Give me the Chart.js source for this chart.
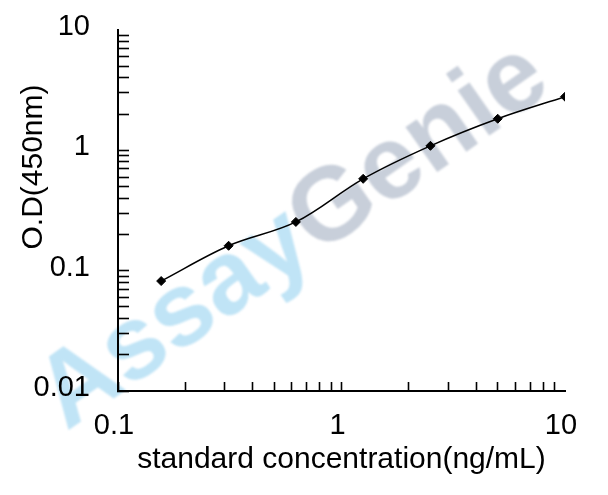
<!DOCTYPE html>
<html>
<head>
<meta charset="utf-8">
<title>Standard curve</title>
<script src="https://cdn.jsdelivr.net/npm/chart.js@4.4.0/dist/chart.umd.min.js"></script>
<style>
  html, body { margin: 0; padding: 0; background: #fff; }
  #wrap { width: 608px; height: 495px; }
</style>
</head>
<body>
<div id="wrap"><canvas id="curve" width="608" height="495"></canvas></div>
<script>
// standard concentration (ng/mL) and measured O.D at 450nm
const concentration = [0.156, 0.3125, 0.625, 1.25, 2.5, 5, 10];
const odValues = [0.082, 0.161, 0.254, 0.58, 1.09, 1.83, 2.79];

// labelled ticks on each axis
const xTickLabels = [0.1, 1, 10];
const yTickLabels = [0.01, 0.1, 1, 10];
// minor tick multiples within one decade
const decadeSteps = [1, 2, 3, 4, 5, 6, 7, 8, 9];

const xTitle = "standard concentration(ng/mL)";
const yTitle = "O.D(450nm)";
const watermark = ["Assay", "Genie"];

const FONT = "'Liberation Sans', Arial, sans-serif";

function isLabel(list, v) {
  return list.some((t) => Math.abs(t - v) / t < 1e-6);
}

// ticks 1..9 of every decade between min and max
function decadeTicks(scale) {
  const ticks = [];
  const lo = Math.round(Math.log10(scale.min));
  const hi = Math.round(Math.log10(scale.max));
  for (let e = lo; e < hi; e++) {
    decadeSteps.forEach((s) => {
      const v = parseFloat((s * Math.pow(10, e)).toPrecision(6));
      ticks.push({ value: v, major: s === 1 });
    });
  }
  ticks.push({ value: scale.max, major: true });
  scale.ticks = ticks;
}

// no tick mark at the top end of an axis
function tickColor(max) {
  return (ctx) => {
    if (ctx.tick && Math.abs(ctx.tick.value - max) / max < 1e-6) {
      return "rgba(0,0,0,0)";
    }
    return "#000";
  };
}

const watermarkPlugin = {
  id: "watermark",
  beforeDraw(chart) {
    const c = chart.ctx;
    c.save();
    c.font = "bold 104px " + FONT;
    c.textBaseline = "middle";
    c.textAlign = "left";
    c.filter = "blur(1.3px)";
    c.translate(50, 408);
    c.rotate(-35 * Math.PI / 180);
    c.fillStyle = "rgb(192, 228, 246)";
    c.fillText(watermark[0], 0, 0);
    const w = c.measureText(watermark[0]).width;
    c.fillStyle = "rgb(200, 207, 218)";
    c.fillText(watermark[1], w, 0);
    c.restore();
  },
};

const yTitlePlugin = {
  id: "yTitle",
  afterDraw(chart) {
    const c = chart.ctx;
    c.save();
    c.font = "30px " + FONT;
    c.fillStyle = "#000";
    c.textAlign = "center";
    c.textBaseline = "middle";
    c.translate(34, 167);
    c.rotate(-Math.PI / 2);
    c.fillText(yTitle, 0, 0);
    c.restore();
  },
};

document.addEventListener("DOMContentLoaded", function () {
  const ctx = document.getElementById("curve").getContext("2d");

  new Chart(ctx, {
    type: "line",
    data: {
      datasets: [
        {
          label: "Standard",
          data: concentration.map((x, i) => ({ x: x, y: odValues[i] })),
          borderColor: "#000",
          borderWidth: 1.5,
          tension: 0.35,
          pointStyle: "rectRot",
          pointRadius: 4.5,
          pointBackgroundColor: "#000",
          pointBorderColor: "#000",
          pointBorderWidth: 1,
        },
      ],
    },
    options: {
      responsive: false,
      animation: false,
      events: [],
      layout: { padding: { top: 30, right: 43, bottom: 0, left: 0 } },
      plugins: {
        legend: { display: false },
        tooltip: { enabled: false },
      },
      scales: {
        x: {
          type: "logarithmic",
          position: "bottom",
          min: 0.1,
          max: 10,
          afterBuildTicks: decadeTicks,
          afterFit: (scale) => {
            scale.height = 104;
            scale.paddingLeft = 0;
            scale.paddingRight = 0;
          },
          border: { display: true, color: "#000", width: 2 },
          grid: {
            drawOnChartArea: false,
            drawTicks: true,
            tickLength: -9,
            tickWidth: 1.6,
            tickColor: tickColor(10),
          },
          ticks: {
            autoSkip: false,
            maxRotation: 0,
            padding: 27,
            labelOffset: -4,
            color: "#000",
            font: { family: FONT, size: 29 },
            callback: (v) => (isLabel(xTickLabels, v) ? String(v) : ""),
          },
          title: {
            display: true,
            text: xTitle,
            color: "#000",
            font: { family: FONT, size: 30 },
            padding: { top: 0, bottom: 17 },
          },
        },
        y: {
          type: "logarithmic",
          position: "left",
          min: 0.01,
          max: 10,
          afterBuildTicks: decadeTicks,
          afterFit: (scale) => {
            scale.width = 118;
            scale.paddingTop = 0;
            scale.paddingBottom = 0;
          },
          border: { display: true, color: "#000", width: 2 },
          grid: {
            drawOnChartArea: false,
            drawTicks: true,
            tickLength: -11,
            tickWidth: 1.6,
            tickColor: tickColor(10),
          },
          ticks: {
            autoSkip: false,
            padding: 39,
            labelOffset: -3,
            color: "#000",
            font: { family: FONT, size: 29 },
            callback: (v) => (isLabel(yTickLabels, v) ? String(v) : ""),
          },
        },
      },
    },
    plugins: [watermarkPlugin, yTitlePlugin],
  });
});
</script>
</body>
</html>
